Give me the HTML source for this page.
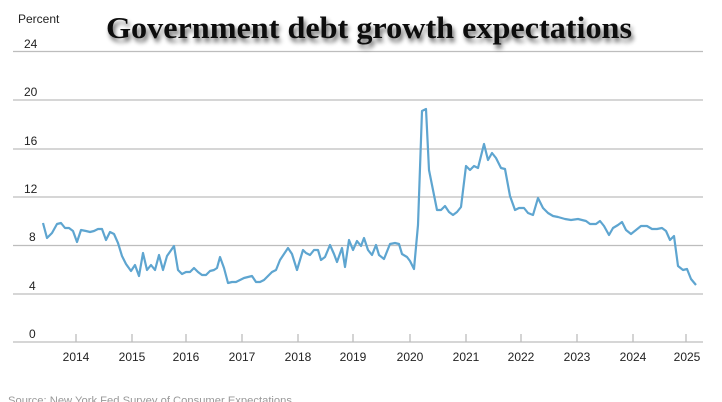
<!DOCTYPE html>
<html><head><meta charset="utf-8"><style>
html,body{margin:0;padding:0;background:#fff;width:722px;height:402px;overflow:hidden}
</style></head><body>
<svg width="722" height="402" xmlns="http://www.w3.org/2000/svg">
<defs><filter id="sh" x="-5%" y="-30%" width="110%" height="160%"><feGaussianBlur in="SourceAlpha" stdDeviation="2.5"/><feOffset dx="2" dy="4"/><feComponentTransfer><feFuncA type="linear" slope="0.6"/></feComponentTransfer><feMerge><feMergeNode/><feMergeNode in="SourceGraphic"/></feMerge></filter></defs>
<g stroke="#bdbdbd" stroke-width="1.3">
<line x1="13" x2="703" y1="51.5" y2="51.5"/>
<line x1="13" x2="703" y1="100" y2="100"/>
<line x1="13" x2="703" y1="149" y2="149"/>
<line x1="13" x2="703" y1="197" y2="197"/>
<line x1="13" x2="703" y1="245.5" y2="245.5"/>
<line x1="13" x2="703" y1="294" y2="294"/>
<line x1="13" x2="703" y1="342" y2="342"/>
<line x1="76" x2="76" y1="334" y2="342"/><line x1="132" x2="132" y1="334" y2="342"/><line x1="186" x2="186" y1="334" y2="342"/><line x1="242" x2="242" y1="334" y2="342"/><line x1="298" x2="298" y1="334" y2="342"/><line x1="353" x2="353" y1="334" y2="342"/><line x1="410" x2="410" y1="334" y2="342"/><line x1="466" x2="466" y1="334" y2="342"/><line x1="521" x2="521" y1="334" y2="342"/><line x1="577" x2="577" y1="334" y2="342"/><line x1="633" x2="633" y1="334" y2="342"/><line x1="686" x2="686" y1="334" y2="342"/>
</g>
<g font-family="Liberation Sans, Arial, sans-serif" font-size="12" fill="#222">
<text x="18" y="23">Percent</text>
<text x="24" y="48">24</text><text x="24" y="96">20</text><text x="24" y="145">16</text><text x="24" y="193">12</text><text x="29" y="241">8</text><text x="29" y="290">4</text><text x="29" y="338">0</text>
<g text-anchor="middle"><text x="76" y="361">2014</text><text x="132" y="361">2015</text><text x="186" y="361">2016</text><text x="242" y="361">2017</text><text x="298" y="361">2018</text><text x="353" y="361">2019</text><text x="410" y="361">2020</text><text x="466" y="361">2021</text><text x="521" y="361">2022</text><text x="577" y="361">2023</text><text x="633" y="361">2024</text><text x="687" y="361">2025</text></g>
<text x="8" y="404" fill="#999" font-size="11" textLength="284" lengthAdjust="spacingAndGlyphs">Source: New York Fed Survey of Consumer Expectations</text>
</g>
<text x="106" y="38" font-family="Liberation Serif, serif" font-weight="bold" font-size="31" textLength="526" lengthAdjust="spacingAndGlyphs" fill="#111" filter="url(#sh)">Government debt growth expectations</text>
<polyline fill="none" stroke="#5ea5d0" stroke-width="2.2" stroke-linejoin="round" points="43,223 47,238 52,233 57,224 61,223 65,228 69,228 73,231 77,242 81,230 86,231 90,232 94,231 98,229 102,229 106,240 110,232 114,234 118,243 122,256 126,264 131,271 135,265 139,276 143,253 147,270 151,265 155,270 159,255 163,270 167,256 174,246 178,270 182,274 186,272 190,272 194,268 198,272 202,275 206,275 210,271 214,270 217,268 220,257 224,268 228,283 232,282 236,282 240,280 244,278 248,277 252,276 256,282 260,282 264,280 268,276 272,272 276,270 280,260 288,248 292,254 297,270 300,260 303,250 306,253 310,255 314,250 318,250 321,260 325,257 330,245 334,254 337,262 342,248 345,267 349,240 353,250 357,241 361,246 364,238 368,250 372,255 376,245 379,255 384,259 390,244 395,243 399,244 402,254 407,257 410,261 414,269 418,225 422,111 426,109 429,170 433,190 437,210 441,210 445,206 449,212 453,215 457,212 461,207 466,166 470,170 474,166 478,168 484,144 488,160 492,153 496,158 501,168 505,169 510,196 515,210 519,208 524,208 528,213 533,215 538,198 543,208 548,213 553,216 558,217 565,219 571,220 578,219 582,220 586,221 590,224 596,224 600,221 604,226 609,235 613,228 618,225 622,222 626,230 631,234 636,230 641,226 647,226 652,229 657,229 662,228 666,231 670,240 674,236 678,266 683,270 687,269 691,279 696,285"/>
</svg>
</body></html>
